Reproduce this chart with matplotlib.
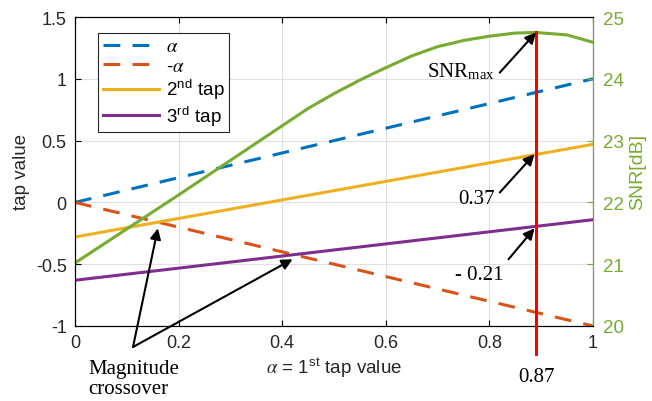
import matplotlib.pyplot as plt
import numpy as np

plt.rcParams["font.family"] = ["Liberation Sans", "DejaVu Sans"]
plt.rcParams["mathtext.fontset"] = "stix"

# data
alpha = [0.0, 1.0]
tap2 = [-0.28, 0.47]
tap3 = [-0.63, -0.14]
snr_x = [0.0, 0.1, 0.2, 0.3, 0.4, 0.45, 0.5, 0.55, 0.6, 0.65, 0.7, 0.75, 0.8, 0.85, 0.89, 0.95, 1.0]
snr_db = [21.02, 21.57, 22.12, 22.68, 23.24, 23.52, 23.76, 23.98, 24.18, 24.37, 24.52,
          24.62, 24.69, 24.74, 24.75, 24.71, 24.59]
peak_x = 0.89
peak_db = 24.75
peak_label = "0.87"
tap2_label = "0.37"
tap3_label = "- 0.21"
xticks = [0, 0.2, 0.4, 0.6, 0.8, 1]
xtick_labels = ["0", "0.2", "0.4", "0.6", "0.8", "1"]
yticks = [-1, -0.5, 0, 0.5, 1, 1.5]
ytick_labels = ["-1", "-0.5", "0", "0.5", "1", "1.5"]
snr_ticks = [20, 21, 22, 23, 24, 25]

BLUE = "#0072BD"
ORANGE = "#D95319"
YELLOW = "#EDB120"
PURPLE = "#7E2F8E"
GREEN = "#77AC30"
DARK = "#262626"

fig = plt.figure(figsize=(6.52, 4.02), dpi=100)
ax = fig.add_axes([0.115, 0.1866, 0.7945, 0.7686])
ax2 = ax.twinx()

lw = 2.2
a = np.array(alpha)
ax.plot(a, a, color=BLUE, lw=lw, dashes=(5.5, 4), label=r"$\alpha$")
ax.plot(a, -a, color=ORANGE, lw=lw, dashes=(5.5, 4), label=r"-$\alpha$")
ax.plot(alpha, tap2, color=YELLOW, lw=lw, label=r"2$^{\mathregular{nd}}$ tap")
ax.plot(alpha, tap3, color=PURPLE, lw=lw, label=r"3$^{\mathregular{rd}}$ tap")

ax.set_xlim(0, 1)
ax.set_ylim(-1, 1.5)
ax.set_xticks(xticks)
ax.set_xticklabels(xtick_labels)
ax.set_yticks(yticks)
ax.set_yticklabels(ytick_labels)
ax.grid(True, color="#e0e0e0", lw=0.8)
ax.set_axisbelow(True)
ax.tick_params(direction="in", labelsize=13, top=True, length=4, pad=6, labelcolor=DARK)
ax.set_ylabel("tap value", fontsize=13.5, labelpad=4, color=DARK)
ax.set_xlabel(r"$\alpha$ = 1$^{\mathregular{st}}$ tap value", fontsize=13.5, labelpad=3, color=DARK)
for s in ["left", "bottom", "top"]:
    ax.spines[s].set_color(DARK)

leg = ax.legend(loc="upper left", bbox_to_anchor=(0.027, 0.977), fontsize=13.5,
                handlelength=3.0, fancybox=False, framealpha=1, edgecolor=DARK,
                borderpad=0.25, labelspacing=0.12, handletextpad=0.35)
leg.get_frame().set_linewidth(0.8)

ax2.plot(snr_x, snr_db, color=GREEN, lw=lw)
ax2.set_ylim(20, 25)
ax2.set_yticks(snr_ticks)
ax2.tick_params(direction="in", colors=GREEN, labelsize=13.5, length=4, pad=7)
ax2.spines["right"].set_color(GREEN)
ax2.set_ylabel("SNR[dB]", color=GREEN, fontsize=14, labelpad=4)

# red marker line at the SNR peak, running below the axis
ax2.plot([peak_x, peak_x], [peak_db, 19.55], color="red", lw=2.2, clip_on=False, zorder=5)

serif = {"family": ["Liberation Serif", "DejaVu Serif"], "size": 15}
arrow = dict(arrowstyle="-|>", color="black", lw=1.5, mutation_scale=16, shrinkA=0, shrinkB=0)

ax2.annotate("", xy=(peak_x, peak_db), xytext=(0.82, 24.1), arrowprops=arrow, zorder=6)
ax2.text(0.81, 24.12, r"SNR$_{\mathregular{max}}$", ha="right", va="center", fontdict=serif)

ax2.annotate("", xy=(peak_x - 0.003, 0.39), xycoords=ax.transData,
             xytext=(0.82, 0.08), textcoords=ax.transData, arrowprops=arrow, zorder=6)
ax2.text(0.81, 0.03, tap2_label, ha="right", va="center", fontdict=serif, transform=ax.transData)

ax2.annotate("", xy=(peak_x - 0.003, -0.21), xycoords=ax.transData,
             xytext=(0.837, -0.46), textcoords=ax.transData, arrowprops=arrow, zorder=6)
ax2.text(0.827, -0.58, tap3_label, ha="right", va="center", fontdict=serif, transform=ax.transData)

ax2.text(peak_x, -1.33, peak_label, ha="center", va="top", fontdict=serif,
         transform=ax.transData)

# magnitude crossover arrows
ax2.annotate("", xy=(0.16, -0.21), xycoords=ax.transData,
             xytext=(0.112, -1.17), textcoords=ax.transData, arrowprops=arrow,
             annotation_clip=False, zorder=6)
ax2.annotate("", xy=(0.42, -0.46), xycoords=ax.transData,
             xytext=(0.112, -1.17), textcoords=ax.transData, arrowprops=arrow,
             annotation_clip=False, zorder=6)
ax2.text(0.025, -1.27, "Magnitude\ncrossover", ha="left", va="top", fontdict=serif,
         transform=ax.transData, linespacing=1.05)

fig.savefig("out.png", dpi=100)
